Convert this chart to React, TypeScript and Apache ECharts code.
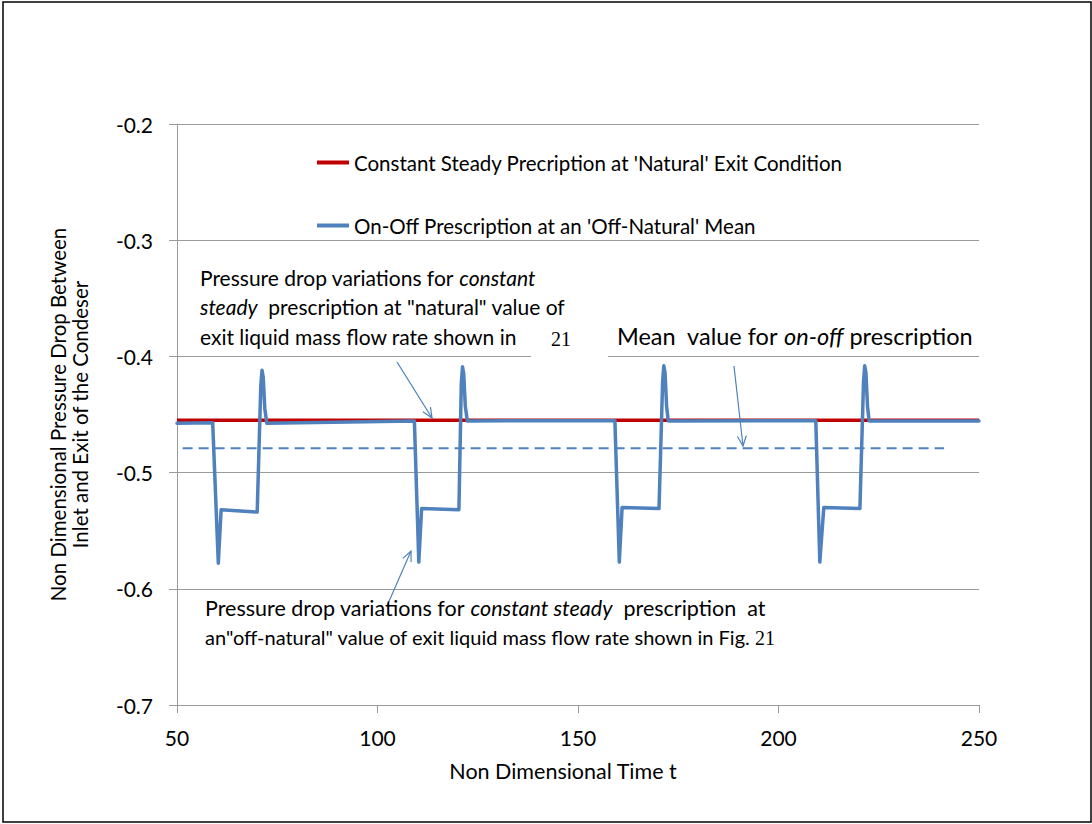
import { useEffect, useRef } from 'react';
import * as echarts from 'echarts';

// Constant steady prescription at the natural exit condition
const steadyTime = [50, 250];
const steadyValue = [-0.455, -0.455];

// On-off prescription (four cycles, period 50)
const onOffTime = [
  50, 58.9, 60.3, 61.0, 70.0, 70.9, 71.2, 71.5, 71.9, 72.4,
  109.2, 110.3, 111.0, 120.3, 120.9, 121.2, 121.5, 121.9, 122.4,
  159.2, 160.3, 161.0, 170.2, 171.1, 171.4, 171.7, 172.1, 172.5,
  209.3, 210.3, 211.3, 220.3, 221.2, 221.5, 221.8, 222.2, 222.6,
  250,
];
const onOffValue = [
  -0.4575, -0.457, -0.578, -0.532, -0.534, -0.425, -0.412, -0.418, -0.445, -0.4575,
  -0.4555, -0.577, -0.531, -0.532, -0.423, -0.409, -0.415, -0.443, -0.4555,
  -0.4553, -0.577, -0.530, -0.531, -0.422, -0.408, -0.414, -0.443, -0.4555,
  -0.4553, -0.577, -0.530, -0.531, -0.422, -0.408, -0.414, -0.443, -0.4555,
  -0.4555,
];

// Mean value of the on-off prescription
const meanTime = [51.4, 241.3];
const meanValue = [-0.479, -0.479];

const yTicks = { min: -0.7, max: -0.2, step: 0.1 };
const xTicks = { min: 50, max: 250, step: 50 };

const steadyName = "Constant Steady Precription at 'Natural' Exit Condition";
const onOffName = "On-Off Prescription at an 'Off-Natural' Mean";

const SANS = 'Lato, "Noto Sans", sans-serif';
const SERIF = '"Liberation Serif", "DejaVu Serif", serif';
const BLUE = '#4F81BD';
const RED = '#C00000';
const GRID = '#9A9A9A';

const pairs = (xs: number[], ys: number[]) => xs.map((x, i) => [x, ys[i]]);

function arrow(x1: number, y1: number, x2: number, y2: number) {
  const ang = Math.atan2(y2 - y1, x2 - x1);
  const L = 11;
  const a = 0.42;
  const p1 = [x2 - L * Math.cos(ang - a), y2 - L * Math.sin(ang - a)];
  const p2 = [x2 - L * Math.cos(ang + a), y2 - L * Math.sin(ang + a)];
  return [
    { type: 'line', z: 110, shape: { x1, y1, x2, y2 }, style: { stroke: BLUE, lineWidth: 1.2 } },
    {
      type: 'polyline',
      z: 110,
      shape: { points: [p1, [x2, y2], p2] },
      style: { stroke: BLUE, fill: null, lineWidth: 1.2 },
    },
  ];
}

const richStyles = (size: number) => ({
  n: { fontFamily: SANS, fontSize: size, fill: '#000' },
  i: { fontFamily: SANS, fontSize: size, fontStyle: 'italic', fill: '#000' },
  s: { fontFamily: SERIF, fontSize: 20, fill: '#000' },
});

function label(x: number, y: number, text: string, size = 21) {
  return {
    type: 'text',
    z: 120,
    x,
    y,
    style: { text, rich: richStyles(size), verticalAlign: 'middle', align: 'left' },
  };
}

export default function App() {
  const ref = useRef<HTMLDivElement>(null);

  useEffect(() => {
    document.body.style.margin = '0';
    if (!ref.current) return;
    const chart = echarts.init(ref.current, undefined, { renderer: 'svg' });

    chart.setOption({
      animation: false,
      backgroundColor: '#fff',
      grid: { left: 177, right: 113, top: 124, bottom: 119 },
      legend: {
        orient: 'vertical',
        left: 312,
        top: 147,
        itemGap: 42,
        itemWidth: 32,
        itemHeight: 4,
        textStyle: { fontFamily: SANS, fontSize: 20.5, color: '#000', lineHeight: 20 },
        data: [
          { name: steadyName, icon: 'rect' },
          { name: onOffName, icon: 'rect' },
        ],
      },
      xAxis: {
        type: 'value',
        min: xTicks.min,
        max: xTicks.max,
        interval: xTicks.step,
        name: 'Non Dimensional Time t',
        nameLocation: 'middle',
        nameGap: 55,
        nameTextStyle: { fontFamily: SANS, fontSize: 21.5, color: '#000', padding: [0, 30, 0, 0] },
        axisLine: { lineStyle: { color: GRID } },
        axisTick: { show: true, length: 8, lineStyle: { color: GRID } },
        axisLabel: { fontFamily: SANS, fontSize: 21, color: '#000', margin: 22 },
        splitLine: { show: false },
      },
      yAxis: {
        type: 'value',
        min: yTicks.min,
        max: yTicks.max,
        interval: yTicks.step,
        name: 'Non Dimensional Pressure Drop Between\nInlet and Exit of the Condeser',
        nameLocation: 'middle',
        nameRotate: 90,
        nameGap: 86,
        nameTextStyle: { fontFamily: SANS, fontSize: 20.5, color: '#000', lineHeight: 22 },
        axisLine: { show: true, lineStyle: { color: GRID } },
        axisTick: { show: true, length: 8, lineStyle: { color: GRID } },
        axisLabel: {
          fontFamily: SANS,
          fontSize: 21,
          color: '#000',
          margin: 24,
          formatter: (v: number) => v.toFixed(1),
        },
        splitLine: { show: true, lineStyle: { color: GRID, width: 1 } },
      },
      series: [
        {
          name: steadyName,
          type: 'line',
          data: pairs(steadyTime, steadyValue),
          symbol: 'none',
          color: RED,
          lineStyle: { color: RED, width: 3.5 },
          z: 2,
        },
        {
          name: 'mean',
          type: 'line',
          data: pairs(meanTime, meanValue),
          symbol: 'none',
          color: BLUE,
          lineStyle: { color: BLUE, width: 2, type: [10, 6] },
          z: 3,
        },
        {
          name: onOffName,
          type: 'line',
          data: pairs(onOffTime, onOffValue),
          symbol: 'none',
          color: BLUE,
          lineStyle: { color: BLUE, width: 3.5, cap: 'round', join: 'round' },
          z: 4,
        },
      ],
      graphic: [
        {
          type: 'rect',
          z: 90,
          shape: { x: 3, y: 2, width: 1088, height: 820 },
          style: { fill: null, stroke: '#000', lineWidth: 1.5 },
        },
        {
          type: 'rect',
          z: 100,
          shape: { x: 531, y: 322, width: 77, height: 38 },
          style: { fill: '#fff' },
        },
        label(200, 277, '{n|Pressure drop variations for }{i|constant}'),
        label(200, 306, '{i|steady}{n|  prescription at "natural" value of}'),
        label(200, 336, '{n|exit liquid mass flow rate shown in}'),
        label(551, 339, '{s|21}'),
        label(617, 336, '{n|Mean  value for }{i|on-off}{n| prescription}', 23.5),
        label(205, 608, '{n|Pressure drop variations for }{i|constant steady}{n|  prescription  at}', 21.5),
        label(205, 637, '{n|an"off-natural" value of exit liquid mass flow rate shown in Fig.}', 20),
        label(755, 638, '{s|21}'),
        ...arrow(397, 362, 432, 418),
        ...arrow(734, 366, 743, 446),
        ...arrow(387, 606, 411, 551),
      ],
    });

    return () => chart.dispose();
  }, []);

  return <div ref={ref} style={{ width: 1092, height: 824 }} />;
}
